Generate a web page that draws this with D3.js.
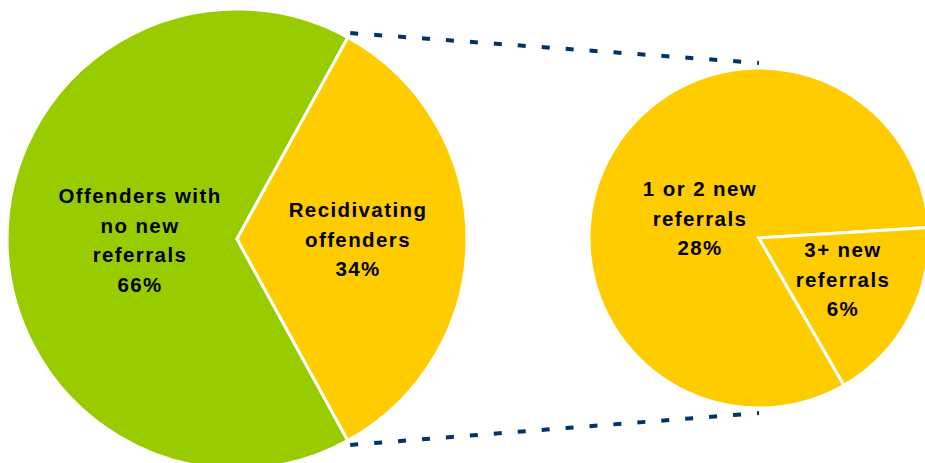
<!DOCTYPE html>
<html>
<head>
<meta charset="utf-8">
<script src="https://cdn.jsdelivr.net/npm/d3@7"></script>
<style>
  html, body { margin: 0; padding: 0; background: #ffffff; }
  svg { display: block; }
  .label { font-family: "Liberation Sans", Arial, sans-serif; font-weight: bold; font-size: 20.5px; letter-spacing: 1.4px; fill: #000; }
</style>
</head>
<body>
<div class="chart"></div>
<script>
'use strict';
(function() {
  // Data
  var mainCategories = ['Offenders with\nno new\nreferrals', 'Recidivating\noffenders'];
  var mainValues = [66, 34];
  var subCategories = ['1 or 2 new\nreferrals', '3+ new\nreferrals'];
  var subValues = [28, 6];

  // Colors
  var GREEN = '#99cc00';
  var YELLOW = '#ffcc00';
  var NAVY = '#003366';

  // Size and layout
  var w = 925;
  var h = 463;
  var bigR = 230, bigCx = 237, bigCy = 239;
  var smallR = 170, smallCx = 759, smallCy = 238;
  var lineH = 29.5;
  var deg = Math.PI / 180;

  // label offsets from pie centre (first baseline)
  var mainLabelPos = [[-97, -36], [121, -22]];
  var subLabelPos = [[-59, -42], [84, 19]];

  var svg = d3.select('.chart')
    .append('svg')
    .attr('width', w)
    .attr('height', h);

  // Left pie: recidivating slice centred on the right side
  var mainTotal = d3.sum(mainValues);
  var recidSpan = mainValues[1] / mainTotal * 2 * Math.PI;
  var mainStart = Math.PI / 2 + recidSpan / 2;
  var mainPie = d3.pie().sort(null)
    .startAngle(mainStart)
    .endAngle(mainStart + 2 * Math.PI);
  var mainArcs = mainPie(mainValues);

  var bigArc = d3.arc().innerRadius(0).outerRadius(bigR);

  // Right pie: breakdown of the recidivating group
  var subStart = 150 * deg;
  var subPie = d3.pie().sort(null)
    .startAngle(subStart)
    .endAngle(subStart + 2 * Math.PI);
  var subArcs = subPie(subValues);
  var smallArc = d3.arc().innerRadius(0).outerRadius(smallR);

  // Dotted connectors between the two pies
  var recid = mainArcs[1];
  var polar = function(cx, cy, r, a) {
    return [cx + r * Math.sin(a), cy - r * Math.cos(a)];
  };
  var connectors = [
    [polar(bigCx, bigCy, bigR + 5, recid.startAngle), polar(smallCx, smallCy, smallR + 5, 0)],
    [polar(bigCx, bigCy, bigR + 5, recid.endAngle), polar(smallCx, smallCy, smallR + 5, Math.PI)]
  ];
  svg.append('g')
    .attr('class', 'connectors')
    .selectAll('line')
    .data(connectors)
    .enter()
    .append('line')
    .attr('x1', function(d) { return d[0][0]; })
    .attr('y1', function(d) { return d[0][1]; })
    .attr('x2', function(d) { return d[1][0]; })
    .attr('y2', function(d) { return d[1][1]; })
    .attr('stroke', NAVY)
    .attr('stroke-width', 4)
    .attr('stroke-dasharray', '8,16');

  svg.append('g')
    .attr('transform', 'translate(' + bigCx + ',' + bigCy + ')')
    .selectAll('path')
    .data(mainArcs)
    .enter()
    .append('path')
    .attr('d', bigArc)
    .attr('fill', function(d, i) { return i === 0 ? GREEN : YELLOW; })
    .attr('stroke', '#fff')
    .attr('stroke-width', 3)
    .attr('stroke-linejoin', 'miter');

  svg.append('g')
    .attr('transform', 'translate(' + smallCx + ',' + smallCy + ')')
    .selectAll('path')
    .data(subArcs)
    .enter()
    .append('path')
    .attr('d', smallArc)
    .attr('fill', YELLOW)
    .attr('stroke', '#fff')
    .attr('stroke-width', 3)
    .attr('stroke-linejoin', 'miter');

  // Labels
  var addLabels = function(cats, vals, pos, cx, cy) {
    cats.forEach(function(c, i) {
      var lines = c.split('\n').concat([vals[i] + '%']);
      var t = svg.append('text')
        .attr('class', 'label')
        .attr('text-anchor', 'middle')
        .attr('x', cx + pos[i][0])
        .attr('y', cy + pos[i][1]);
      lines.forEach(function(l, j) {
        t.append('tspan')
          .attr('x', cx + pos[i][0])
          .attr('dy', j === 0 ? 0 : lineH)
          .text(l);
      });
    });
  };
  addLabels(mainCategories, mainValues, mainLabelPos, bigCx, bigCy);
  addLabels(subCategories, subValues, subLabelPos, smallCx, smallCy);
})();
</script>
</body>
</html>
